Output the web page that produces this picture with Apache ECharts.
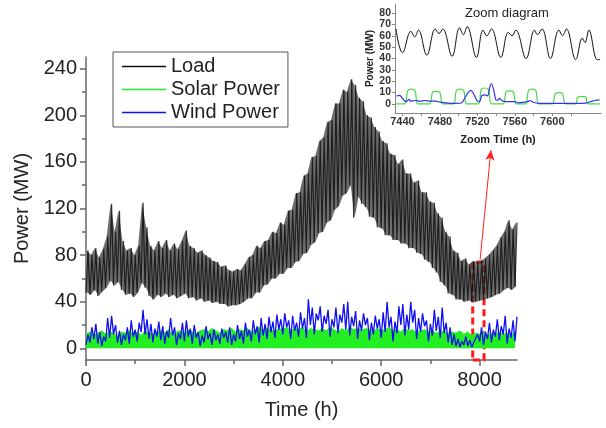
<!DOCTYPE html>
<html><head><meta charset="utf-8">
<script src="https://cdn.jsdelivr.net/npm/echarts@6/dist/echarts.min.js"></script>
<style>html,body{margin:0;padding:0;background:#fff}#c{width:606px;height:428px}</style>
</head><body><div id="c"></div>
<script>
// ---------- main chart data (hours) ----------
const mainStepHours = 40; // load alternates low/high every step; wind sampled every step; solar every 2 steps
const loadLow = [48,46,50,45,49,52,58,54,57,50, 46,47,44,48,56,52,45,42,46,44, 47,44,46,43,45,47,43,44,41,43,
  40,41,39,40,38,38,36,37,37,38, 40,43,43,48,48,54,55,60,60,64, 64,69,69,74,75,81,82,89,91,99,
  100,108,110,119,122,131,133,140,112,130, 124,121,113,112,104,103,97,97,93,93, 90,90,86,86,82,81,76,74,69,65,
  57,54,47,46,42,42,40,41,40,40, 41,42,43,44,46,47,50,52,50,53];
const loadHigh = [84,80,86,78,85,96,124,100,118,92, 84,86,80,88,125,104,88,84,92,86, 93,84,90,85,92,101,88,86,82,84,
  80,78,75,74,70,71,67,66,68,67, 72,78,80,88,86,92,93,100,99,108, 106,118,119,133,134,148,150,164,165,178,
  181,194,196,210,210,222,220,231,226,215, 212,200,198,190,186,178,176,167,166,158, 162,150,150,142,144,134,134,126,125,116,
  112,100,96,84,82,75,77,72,75,74, 75,77,80,84,88,95,100,110,102,108];
const solarPeak = [12,14,11,13,15,12,14,13,10,14, 13,15,12,14,11,15,13,12,14,15, 13,16,12,14,15,13,16,14,12,15,
  16,14,17,15,13,16,15,17,14,16, 15,17,14,16,18,15,17,16,14,17, 16,18,15,17,16,18,14,17,16,15,
  17,15,18,16,14,17,15,18,16,17, 15,17,16,14,17,15,16,18,15,16, 14,17,15,16,13,15,16,14,15,13,
  14,15,12,14,13,15,12,14,11,13, 12,14,11,13,12,14,12,13,11,14];
const windPower = [3,12,5,18,8,21,4,14,2,10, 6,26,9,28,12,20,5,15,3,12, 7,18,4,24,10,16,6,22,14,33,
  12,25,8,21,5,17,10,23,7,19, 4,15,9,26,11,18,3,13,8,22, 6,24,10,17,4,20,9,14,2,11,
  5,19,8,13,3,16,7,12,4,17, 9,14,5,18,3,12,6,20,8,15, 4,22,10,16,6,24,12,19,5,26,
  11,21,8,27,14,23,9,29,16,25, 12,30,18,24,8,28,15,22,10,31, 17,26,9,42,20,35,12,30,24,36,
  14,28,21,33,10,25,18,35,13,29, 22,38,16,40,11,27,19,32,8,24, 15,30,20,26,7,22,12,28,17,25,
  9,31,14,40,18,27,6,23,13,36, 20,38,11,29,16,40,22,33,8,26, 14,30,19,24,6,21,11,33,15,27,
  9,35,13,22,5,18,3,12,2,8, 1,6,3,10,2,7,1,5,4,12, 6,18,3,14,8,22,5,16,10,25,
  7,19,12,28,4,17,9,24,6,27];
const mainXTicks = [0,2000,4000,6000,8000];
const mainXMinor = [1000,3000,5000,7000];
const mainYTicks = [0,40,80,120,160,200,240];
const mainYMinor = [20,60,100,140,180,220];
const zoomBox = [[7860,-10],[8090,74]];
const zoomArrow = [[8010,76],[8230,170]];

// ---------- inset (zoom diagram) data ----------
const insetLoadHours = [7433,7440,7449,7453,7457,7466,7475,7479,7483,7493,7501,7505,7509,7519,7526,7530,7535,7545,7553,7557,7561,7572,7581,7584,7589,7598,7607,7611,7615,7625,7632,7635,7639,7648,7651];
const insetLoadMW =    [66,45,64,59,65,43,66,62,66,42,67,61,68,41,65,60,66,41,63,60,65,40,65,61,66,40,65,60,66,39,58,54,65,39,39];
const insetSolarHours = [7432,7442.5,7445.5,7449.5,7453.5,7456.5,7469,7472,7476,7480,7483,7494.5,7497.5,7501.5,7505.5,7508.5,7521,7524,7528,7532,7535,7547.5,7550.5,7554.5,7558.5,7561.5,7571.5,7574.5,7578.5,7582.5,7585.5,7600,7603,7607,7611,7614,7625,7627,7630,7634,7636,7638,7651];
const insetSolarMW =    [0,0,11.5,13,11.5,0,0,10,11,10,0,0,11.5,13,11.5,0,0,12.5,14,12.5,0,0,10.5,11.5,10.5,0,0,11.5,13,11.5,0,0,9,10,9,0,0,6,6.5,6.5,6,0,0];
const insetWindHours = [7433.5,7437,7440,7443,7445.5,7447,7448.5,7454,7459,7464,7469.5,7475,7480,7485.5,7496,7503.5,7506.5,7510,7513,7516,7519.5,7522.5,7524.5,7528,7531,7533,7535,7537.5,7539.5,7541.5,7543.5,7546,7550,7559.5,7565,7573.5,7576.5,7579.5,7586,7607,7628.5,7637,7641,7645.5,7650.5];
const insetWindMW =    [7,7.5,5,2,3,4,2.5,3,2.5,3,2.5,2.5,1.5,1,0.5,1,5,10,12,9,3,2,7,8,7,14,18,12,4,3,5,3,2,2,1,2,3,1.5,0.5,0.5,0.5,1,2,3,3.5];
const insetXTicks = [7440,7460,7480,7500,7520,7540,7560,7580,7600,7620];
const insetXLabels = [7440,7480,7520,7560,7600];
const insetYTicks = [0,10,20,30,40,50,60,70,80];

// ---------- build series data ----------
const loadData = [], bandData = [];
for (let k = 0; k < loadLow.length; k++) {
  loadData.push([2 * k * mainStepHours, loadLow[k]]);
  loadData.push([(2 * k + 1) * mainStepHours, loadHigh[k]]);
  bandData.push([(2 * k + 0.5) * mainStepHours, loadLow[k], loadHigh[k]]);
}
const solarData = solarPeak.map((v, k) => [2 * k * mainStepHours, v]);
const windData = windPower.map((v, k) => [k * mainStepHours, v]);
const zip = (a, b) => a.map((t, i) => [t, b[i]]);
const plain = v => String(v);

const FONT = '"Liberation Sans", Arial, sans-serif';
const AX = '#666';
const LOAD_C = '#111', SOLAR_C = '#22ee22', WIND_C = '#1010ee';

function renderBand(params, api) {
  const i = params.dataIndex;
  if (i >= bandData.length - 1) return null;
  const a = bandData[i], b = bandData[i + 1];
  const pts = [api.coord([a[0], a[2]]), api.coord([b[0], b[2]]), api.coord([b[0], b[1]]), api.coord([a[0], a[1]])];
  return {type: 'polygon', shape: {points: pts}, style: {fill: '#3a3a3a', opacity: 0.75}, silent: true};
}

const chart = echarts.init(document.getElementById('c'), null, {renderer: 'canvas'});
chart.setOption({
  animation: false,
  backgroundColor: '#fff',
  textStyle: {fontFamily: FONT},
  title: {text: 'Zoom diagram', left: 465, top: 7, padding: 0,
    textStyle: {fontSize: 13, fontWeight: 'normal', color: '#222', fontFamily: FONT}},
  legend: {
    data: ['Load', 'Solar Power', 'Wind Power'],
    orient: 'vertical', left: 113, top: 52,
    icon: 'rect', itemWidth: 44, itemHeight: 1.3, itemGap: 2, padding: [4, 8, 4, 9],
    borderColor: '#555', borderWidth: 1, backgroundColor: '#fff',
    textStyle: {fontSize: 20, color: '#222', fontFamily: FONT, lineHeight: 21}
  },
  grid: [
    {left: 86, right: 89, top: 57, bottom: 68},
    {left: 395, right: 5, top: 4, bottom: 315}
  ],
  xAxis: [
    {type: 'value', gridIndex: 0, min: 0, max: 8760, position: 'bottom',
      axisLine: {onZero: false, lineStyle: {color: AX, width: 1.5}},
      axisTick: {customValues: mainXTicks, length: 6, lineStyle: {color: AX, width: 1.5}},
      axisLabel: {customValues: mainXTicks, formatter: plain, fontSize: 20, color: '#222', margin: 10, fontFamily: FONT},
      splitLine: {show: false},
      name: 'Time (h)', nameLocation: 'middle', nameGap: 40,
      nameTextStyle: {fontSize: 20, color: '#222', fontFamily: FONT}},
    {type: 'value', gridIndex: 0, min: 0, max: 8760, position: 'bottom',
      axisLine: {show: false, onZero: false},
      axisTick: {customValues: mainXMinor, length: 4, lineStyle: {color: AX, width: 1.5}},
      axisLabel: {show: false}, splitLine: {show: false}},
    {type: 'value', gridIndex: 1, min: 7432, max: 7652, position: 'bottom',
      axisLine: {onZero: false, lineStyle: {color: '#888', width: 1}},
      axisTick: {customValues: insetXTicks, length: 3, lineStyle: {color: '#888'}},
      axisLabel: {customValues: insetXLabels, formatter: plain, fontSize: 11, fontWeight: 'bold', color: '#333', margin: 3, fontFamily: FONT},
      splitLine: {show: false},
      name: 'Zoom Time (h)', nameLocation: 'middle', nameGap: 21,
      nameTextStyle: {fontSize: 11, fontWeight: 'bold', color: '#222', fontFamily: FONT}}
  ],
  yAxis: [
    {type: 'value', gridIndex: 0, min: -10, max: 250, position: 'left',
      axisLine: {show: true, onZero: false, lineStyle: {color: AX, width: 1.5}},
      axisTick: {show: true, customValues: mainYTicks, length: 6, lineStyle: {color: AX, width: 1.5}},
      axisLabel: {customValues: mainYTicks, formatter: plain, fontSize: 20, color: '#222', margin: 9, fontFamily: FONT},
      splitLine: {show: false},
      name: 'Power (MW)', nameLocation: 'middle', nameGap: 44,
      nameTextStyle: {fontSize: 20, color: '#222', fontFamily: FONT}},
    {type: 'value', gridIndex: 0, min: -10, max: 250, position: 'left',
      axisLine: {show: false, onZero: false},
      axisTick: {show: true, customValues: mainYMinor, length: 4, lineStyle: {color: AX, width: 1.5}},
      axisLabel: {show: false}, splitLine: {show: false}},
    {type: 'value', gridIndex: 1, min: -8, max: 88, position: 'left',
      axisLine: {show: true, onZero: false, lineStyle: {color: '#888', width: 1}},
      axisTick: {show: true, customValues: insetYTicks, length: 3, lineStyle: {color: '#888'}},
      axisLabel: {customValues: insetYTicks, formatter: plain, fontSize: 10.5, fontWeight: 'bold', color: '#333', margin: 4, fontFamily: FONT},
      splitLine: {show: false},
      name: 'Power (MW)', nameLocation: 'middle', nameGap: 18,
      nameTextStyle: {fontSize: 10, fontWeight: 'bold', color: '#222', fontFamily: FONT}}
  ],
  series: [
    {name: 'loadBand', type: 'custom', xAxisIndex: 0, yAxisIndex: 0, data: bandData,
      renderItem: renderBand, encode: {x: 0, y: [1, 2]}, clip: true, silent: true, z: 1},
    {name: 'Load', type: 'line', xAxisIndex: 0, yAxisIndex: 0, data: loadData, symbol: 'none',
      color: LOAD_C, itemStyle: {color: LOAD_C}, lineStyle: {color: LOAD_C, width: 1.2, opacity: 0.85}, z: 2,
      markArea: {silent: true, data: [[{coord: zoomBox[0]}, {coord: zoomBox[1]}]],
        itemStyle: {color: 'rgba(0,0,0,0)', borderColor: '#ff1a1a', borderWidth: 3, borderType: [7, 4]}},
      markLine: {silent: true, symbol: ['none', 'arrow'], symbolSize: [7, 10], label: {show: false},
        lineStyle: {color: '#ff2020', width: 1, type: 'solid', opacity: 1},
        data: [[{coord: zoomArrow[0]}, {coord: zoomArrow[1]}]]}},
    {name: 'Solar Power', type: 'line', xAxisIndex: 0, yAxisIndex: 0, data: solarData, symbol: 'none',
      color: SOLAR_C, itemStyle: {color: SOLAR_C}, lineStyle: {color: SOLAR_C, width: 1}, areaStyle: {color: SOLAR_C, opacity: 1}, z: 3},
    {name: 'Wind Power', type: 'line', xAxisIndex: 0, yAxisIndex: 0, data: windData, symbol: 'none',
      color: WIND_C, itemStyle: {color: WIND_C}, lineStyle: {color: WIND_C, width: 1.3}, z: 4},
    {name: 'zoomLoad', type: 'line', xAxisIndex: 2, yAxisIndex: 2, data: zip(insetLoadHours, insetLoadMW), symbol: 'none',
      smooth: 0.4, lineStyle: {color: '#111', width: 1}, z: 5},
    {name: 'zoomSolar', type: 'line', xAxisIndex: 2, yAxisIndex: 2, data: zip(insetSolarHours, insetSolarMW), symbol: 'none',
      smooth: 0.3, lineStyle: {color: '#44dd44', width: 1.2}, z: 5},
    {name: 'zoomWind', type: 'line', xAxisIndex: 2, yAxisIndex: 2, data: zip(insetWindHours, insetWindMW), symbol: 'none',
      smooth: 0.2, lineStyle: {color: '#3333ee', width: 1.2}, z: 6}
  ]
});
</script></body></html>
